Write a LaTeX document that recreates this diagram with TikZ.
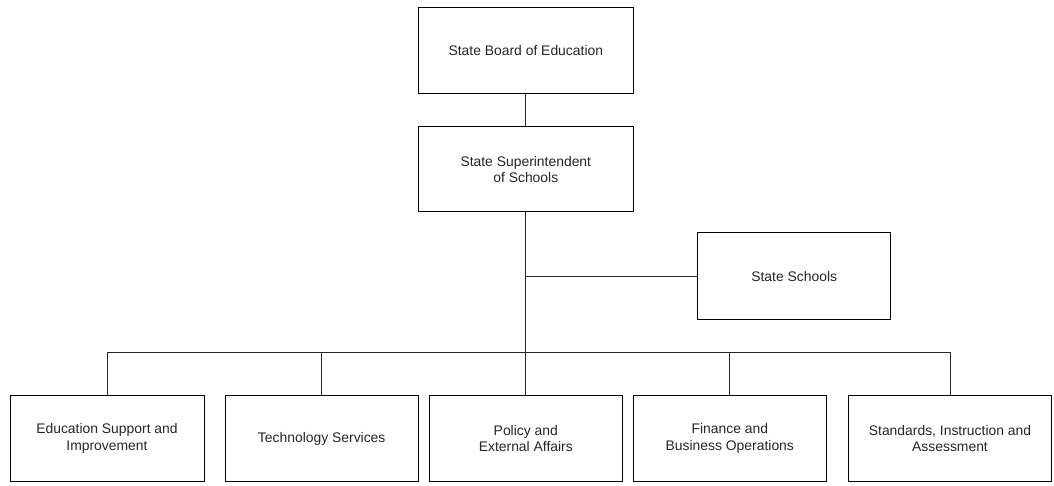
\documentclass[tikz,border=0pt]{standalone}
\usepackage{fontspec}
\setmainfont{Liberation Sans}
\begin{document}
\begin{tikzpicture}[x=1pt,y=-1pt,
  box/.style={draw=black,line width=1pt,rectangle,align=center,inner sep=0pt,
    font=\fontsize{13.9}{16.7}\selectfont,text=black!85},
  link/.style={draw=black!85,line width=1pt}]
\useasboundingbox (0,0) rectangle (1054,486);
\node[box,minimum width=215pt,minimum height=86pt] (board) at (525.8,51) {State Board of Education};
\node[box,minimum width=215pt,minimum height=85pt] (super) at (525.8,169.5) {State Superintendent\\of Schools};
\node[box,minimum width=193pt,minimum height=87pt] (schools) at (794.2,276.3) {State Schools};
\node[box,minimum width=194pt,minimum height=86.4pt] (b1) at (107,438.5) {Education Support and\\Improvement};
\node[box,minimum width=193pt,minimum height=86.4pt] (b2) at (321.7,438.5) {Technology Services};
\node[box,minimum width=193pt,minimum height=86.4pt] (b3) at (525.8,438.5) {Policy and\\External Affairs};
\node[box,minimum width=193pt,minimum height=86.4pt] (b4) at (729.8,438.5) {Finance and\\Business Operations};
\node[box,minimum width=203pt,minimum height=86.4pt] (b5) at (950,438.5) {Standards, Instruction and\\Assessment};
\coordinate (bus) at (525.8,352.3);
\draw[link] (board.south) -- (super.north);
\draw[link] (super.south) -- (bus);
\draw[link] (schools.west) -- (schools.west -| super.south);
\draw[link] (b1.north) |- (bus) -| (b5.north);
\draw[link] (b2.north) -- (b2.north |- bus);
\draw[link] (b3.north) -- (bus);
\draw[link] (b4.north) -- (b4.north |- bus);
\end{tikzpicture}
\end{document}
